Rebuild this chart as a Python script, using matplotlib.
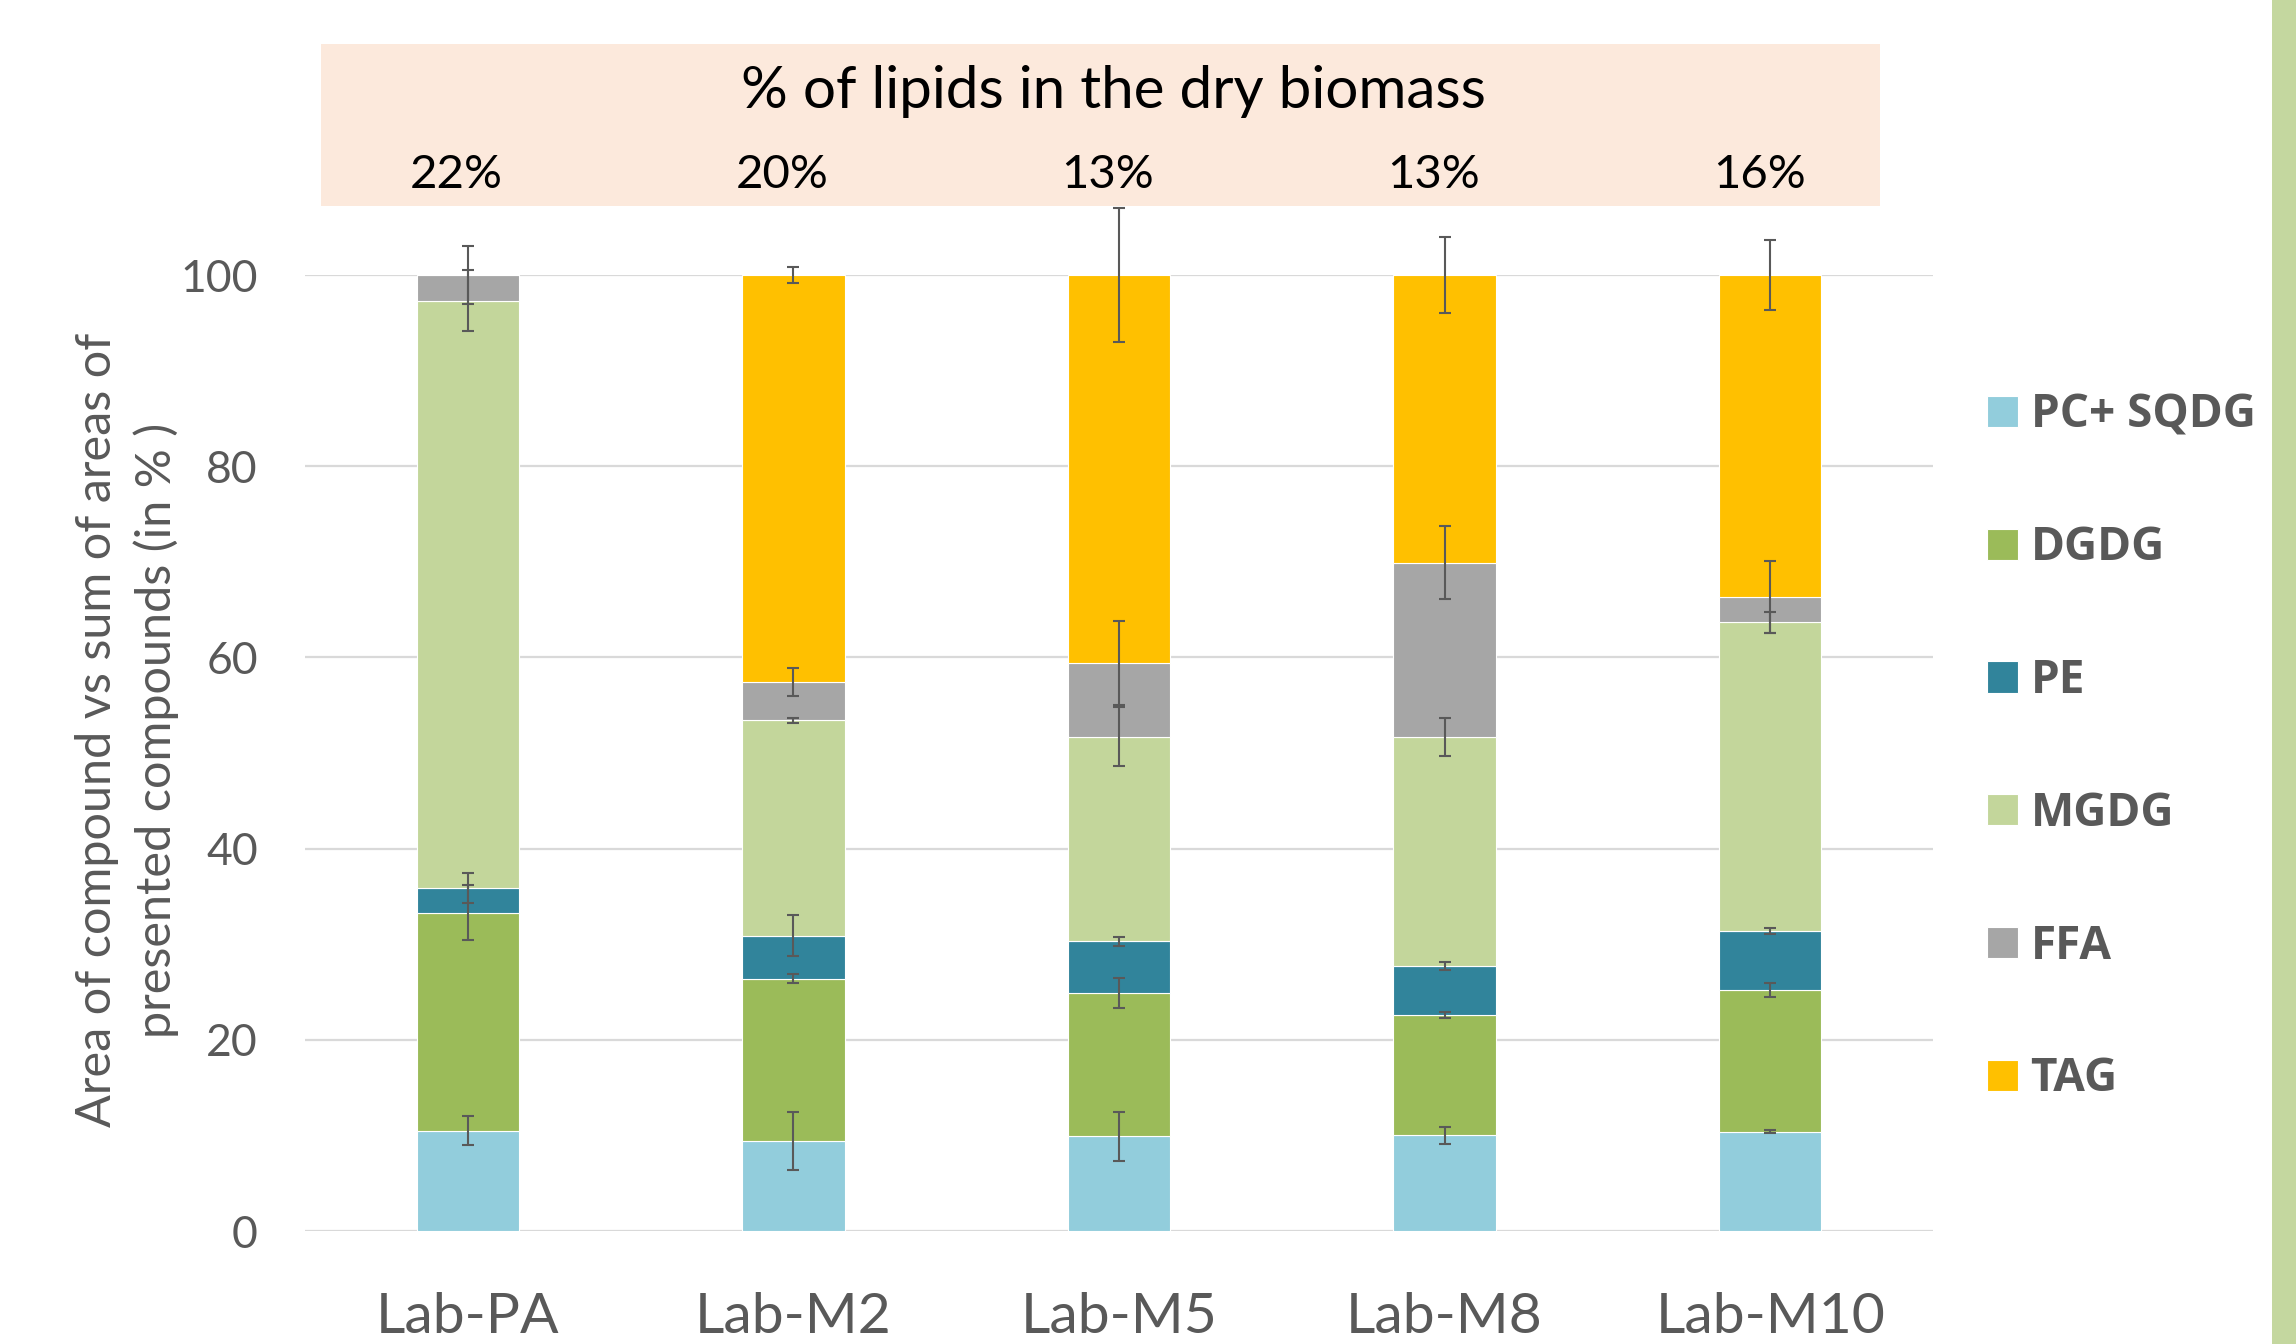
import numpy as np
import matplotlib
matplotlib.use("Agg")
import matplotlib.pyplot as plt
from matplotlib.patches import Rectangle
from matplotlib.transforms import blended_transform_factory

# ---- data -------------------------------------------------------------
samples = ["Lab-PA", "Lab-M2", "Lab-M5", "Lab-M8", "Lab-M10"]
lipid_pct = ["22%", "20%", "13%", "13%", "16%"]

series_names = ["PC+ SQDG", "DGDG", "PE", "MGDG", "FFA", "TAG"]

pc_sqdg = [10.5, 9.4, 9.9, 10.0, 10.4]
dgdg = [22.8, 17.0, 15.0, 12.6, 14.8]
pe = [2.6, 4.5, 5.4, 5.1, 6.2]
mgdg = [61.4, 22.5, 21.4, 24.0, 32.3]
ffa = [2.7, 4.0, 7.7, 18.2, 2.6]
tag = [0.0, 42.6, 40.6, 30.1, 33.7]

pc_sqdg_err = [1.5, 3.0, 2.55, 0.9, 0.15]
dgdg_err = [2.9, 0.5, 1.6, 0.35, 0.7]
pe_err = [1.6, 2.15, 0.5, 0.45, 0.3]
mgdg_err = [3.2, 0.3, 3.1, 2.0, 1.1]
ffa_err = [3.0, 1.45, 4.4, 3.8, 3.75]
tag_err = [0.0, 0.8, 7.0, 4.0, 3.7]

yticks = [0, 20, 40, 60, 80, 100]

# ---- styling ----------------------------------------------------------
colors = ["#92CDDC", "#9BBB59", "#31849B", "#C3D69B", "#A6A6A6", "#FFC000"]
grey_text = "#595959"
plt.rcParams["font.family"] = ["Lato", "DejaVu Sans"]

W, H = 2296, 1344
fig = plt.figure(figsize=(W / 100, H / 100), dpi=100)
fig.patch.set_facecolor("white")

# header band with lipid content (drawn beneath everything else)
fig.add_artist(Rectangle((321 / W, 1 - 206 / H), (1880 - 321) / W, (206 - 44) / H,
                         transform=fig.transFigure, facecolor="#FCE9DC",
                         edgecolor="none", zorder=-2))
# decorative strip on the right edge
fig.add_artist(Rectangle((2272 / W, 0), (W - 2272) / W, 1,
                         transform=fig.transFigure, facecolor="#C4D79F",
                         edgecolor="none", zorder=-2))

ax = fig.add_axes([305 / W, 1 - 1231 / H, (1933 - 305) / W, (1231 - 275) / H])
ax.set_facecolor("none")

x = np.arange(len(samples))
values = [pc_sqdg, dgdg, pe, mgdg, ffa, tag]
errors = [pc_sqdg_err, dgdg_err, pe_err, mgdg_err, ffa_err, tag_err]
bar_w = 0.315

bottom = np.zeros(len(samples))
handles = []
tops = []
for name, vals, col in zip(series_names, values, colors):
    vals = np.asarray(vals, dtype=float)
    b = ax.bar(x, vals, bar_w, bottom=bottom, color=col, edgecolor="white",
               linewidth=0.8, label=name, zorder=2)
    handles.append(b)
    bottom = bottom + vals
    tops.append(bottom.copy())

# error bars sit on top of each stacked segment
for top, err in zip(tops, errors):
    err = np.asarray(err, dtype=float)
    mask = err > 0
    ax.errorbar(x[mask], top[mask], yerr=err[mask], fmt="none",
                ecolor=grey_text, elinewidth=1.5, capsize=4.5, capthick=1.5,
                zorder=4, clip_on=False)

ax.set_xlim(-0.5, len(samples) - 0.5)
ax.set_ylim(0, 100)
ax.set_yticks(yticks)
ax.set_xticks(x)
ax.set_xticklabels(samples)
ax.tick_params(axis="both", length=0, colors=grey_text)
ax.tick_params(axis="y", labelsize=32, pad=34)
ax.tick_params(axis="x", labelsize=41, pad=44)
for s in ax.spines.values():
    s.set_visible(False)
ax.yaxis.grid(True, color="#D9D9D9", linewidth=1.6, zorder=0)
ax.set_axisbelow(True)

fig.text(127 / W, 1 - 730 / H,
         "Area of compound vs sum of areas of\npresented compounds (in % )",
         rotation=90, ha="center", va="center", multialignment="center",
         fontsize=35, color=grey_text, linespacing=1.4)

# header texts
fig.text(1113 / W, 1 - 92 / H, "% of lipids in the dry biomass",
         ha="center", va="center", fontsize=42, color="black")
trans = blended_transform_factory(ax.transData, fig.transFigure)
for xi, lab in zip(x, lipid_pct):
    ax.annotate(lab, xy=(xi, 1 - 175 / H), xycoords=trans,
                xytext=(-8, 0), textcoords="offset points",
                ha="center", va="center", fontsize=34, color="black",
                zorder=5, annotation_clip=False)

leg = ax.legend(handles=handles, loc="center left",
                bbox_to_anchor=(1987 / W, 1 - 747 / H),
                bbox_transform=fig.transFigure, frameon=False,
                prop={"family": "Open Sans", "weight": "bold", "size": 33},
                labelcolor=grey_text, handlelength=0.67, handleheight=0.67,
                handletextpad=0.28, labelspacing=1.87, borderpad=0,
                borderaxespad=0)

fig.savefig("out.png", dpi=100)
